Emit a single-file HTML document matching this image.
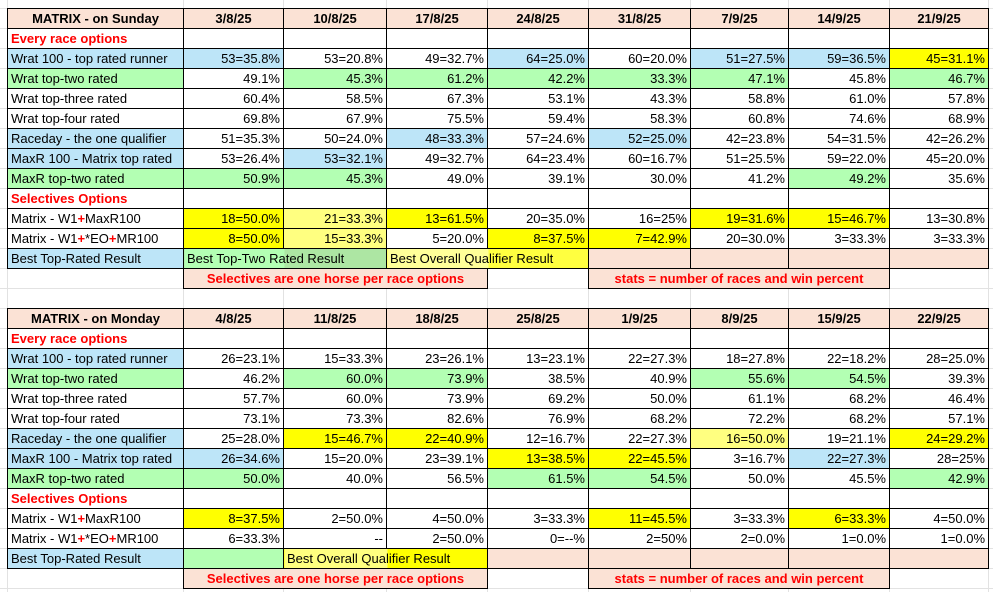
<!DOCTYPE html>
<html><head><meta charset="utf-8"><style>
html,body{margin:0;padding:0;}
body{width:993px;height:592px;position:relative;overflow:hidden;background-color:#fff;
background-image:
linear-gradient(#e2e2e2,#e2e2e2),linear-gradient(#e2e2e2,#e2e2e2),linear-gradient(#e2e2e2,#e2e2e2),linear-gradient(#e2e2e2,#e2e2e2),linear-gradient(#e2e2e2,#e2e2e2),linear-gradient(#e2e2e2,#e2e2e2),linear-gradient(#e2e2e2,#e2e2e2),linear-gradient(#e2e2e2,#e2e2e2),linear-gradient(#e2e2e2,#e2e2e2),linear-gradient(#e2e2e2,#e2e2e2),
repeating-linear-gradient(to bottom,#e2e2e2 0,#e2e2e2 1px,transparent 1px,transparent 20px);
background-size:1px 592px,1px 592px,1px 592px,1px 592px,1px 592px,1px 592px,1px 592px,1px 592px,1px 592px,1px 592px,993px 592px;
background-position:7px 0,183px 0,283px 0,386px 0,487px 0,588px 0,690px 0,788px 0,889px 0,988px 0,0 8px;
background-repeat:no-repeat,no-repeat,no-repeat,no-repeat,no-repeat,no-repeat,no-repeat,no-repeat,no-repeat,no-repeat,repeat;}
table{position:absolute;left:7px;border-collapse:collapse;table-layout:fixed;font-family:"Liberation Sans",Arial,sans-serif;font-size:13px;color:#000;}
td{border:1px solid #000;height:19px;padding:0 3px;line-height:18px;text-align:right;white-space:nowrap;overflow:hidden;background:#fff;}
td.l{text-align:left;}
th{border:1px solid #000;height:19px;padding:0;font-weight:bold;background:#fbe2d5;font-size:13px;}
.b{background:#bde5f8}.g{background:#b3ffb3}.y{background:#ffff00}.ly{background:#ffff80}.s{background:#fbe2d5}
.n{border:none;background:transparent}
.r{color:#ff0000;font-weight:bold}
.fn{text-align:center;color:#ff0000;font-weight:bold;background:#fbe2d5}
</style></head><body>

<table style="top:8px">
<colgroup><col style="width:176px"><col style="width:100px"><col style="width:103px"><col style="width:101px"><col style="width:101px"><col style="width:102px"><col style="width:98px"><col style="width:101px"><col style="width:99px"></colgroup>
<tr><th>MATRIX - on Sunday</th><th>3/8/25</th><th>10/8/25</th><th>17/8/25</th><th>24/8/25</th><th>31/8/25</th><th>7/9/25</th><th>14/9/25</th><th>21/9/25</th></tr>
<tr><td class="l r">Every race options</td><td></td><td></td><td></td><td></td><td></td><td></td><td></td><td></td></tr>
<tr><td class="l b">Wrat 100 - top rated runner</td><td class="b">53=35.8%</td><td>53=20.8%</td><td>49=32.7%</td><td class="b">64=25.0%</td><td>60=20.0%</td><td class="b">51=27.5%</td><td class="b">59=36.5%</td><td class="y">45=31.1%</td></tr>
<tr><td class="l g">Wrat top-two rated</td><td>49.1%</td><td class="g">45.3%</td><td class="g">61.2%</td><td class="g">42.2%</td><td class="g">33.3%</td><td class="g">47.1%</td><td>45.8%</td><td class="g">46.7%</td></tr>
<tr><td class="l">Wrat top-three rated</td><td>60.4%</td><td>58.5%</td><td>67.3%</td><td>53.1%</td><td>43.3%</td><td>58.8%</td><td>61.0%</td><td>57.8%</td></tr>
<tr><td class="l">Wrat top-four rated</td><td>69.8%</td><td>67.9%</td><td>75.5%</td><td>59.4%</td><td>58.3%</td><td>60.8%</td><td>74.6%</td><td>68.9%</td></tr>
<tr><td class="l b">Raceday - the one qualifier</td><td>51=35.3%</td><td>50=24.0%</td><td class="b">48=33.3%</td><td>57=24.6%</td><td class="b">52=25.0%</td><td>42=23.8%</td><td>54=31.5%</td><td>42=26.2%</td></tr>
<tr><td class="l b">MaxR 100 - Matrix top rated</td><td>53=26.4%</td><td class="b">53=32.1%</td><td>49=32.7%</td><td>64=23.4%</td><td>60=16.7%</td><td>51=25.5%</td><td>59=22.0%</td><td>45=20.0%</td></tr>
<tr><td class="l g">MaxR top-two rated</td><td class="g">50.9%</td><td class="g">45.3%</td><td>49.0%</td><td>39.1%</td><td>30.0%</td><td>41.2%</td><td class="g">49.2%</td><td>35.6%</td></tr>
<tr><td class="l r">Selectives Options</td><td></td><td></td><td></td><td></td><td></td><td></td><td></td><td></td></tr>
<tr><td class="l">Matrix - W1<span class="r">+</span>MaxR100</td><td class="y">18=50.0%</td><td class="ly">21=33.3%</td><td class="y">13=61.5%</td><td>20=35.0%</td><td>16=25%</td><td class="y">19=31.6%</td><td class="y">15=46.7%</td><td>13=30.8%</td></tr>
<tr><td class="l">Matrix - W1<span class="r">+</span>*EO<span class="r">+</span>MR100</td><td class="y">8=50.0%</td><td class="ly">15=33.3%</td><td>5=20.0%</td><td class="y">8=37.5%</td><td class="y">7=42.9%</td><td>20=30.0%</td><td>3=33.3%</td><td>3=33.3%</td></tr>
<tr><td class="l b">Best Top-Rated Result</td><td class="l" colspan="2" style="background:linear-gradient(to right,#b3ffb3 100px,#ade6a3 100px)">Best Top-Two Rated Result</td><td class="l" colspan="2" style="background:linear-gradient(to right,#ffff99 101px,#ffff40 101px)">Best Overall Qualifier Result</td><td class="s"></td><td class="s"></td><td class="s"></td><td class="s"></td></tr>
<tr><td class="n"></td><td class="fn" colspan="3">Selectives are one horse per race options</td><td class="n"></td><td class="fn" colspan="3">stats = number of races and win percent</td><td class="n"></td></tr>
</table>

<table style="top:308px">
<colgroup><col style="width:176px"><col style="width:100px"><col style="width:103px"><col style="width:101px"><col style="width:101px"><col style="width:102px"><col style="width:98px"><col style="width:101px"><col style="width:99px"></colgroup>
<tr><th>MATRIX - on Monday</th><th>4/8/25</th><th>11/8/25</th><th>18/8/25</th><th>25/8/25</th><th>1/9/25</th><th>8/9/25</th><th>15/9/25</th><th>22/9/25</th></tr>
<tr><td class="l r">Every race options</td><td></td><td></td><td></td><td></td><td></td><td></td><td></td><td></td></tr>
<tr><td class="l b">Wrat 100 - top rated runner</td><td>26=23.1%</td><td>15=33.3%</td><td>23=26.1%</td><td>13=23.1%</td><td>22=27.3%</td><td>18=27.8%</td><td>22=18.2%</td><td>28=25.0%</td></tr>
<tr><td class="l g">Wrat top-two rated</td><td>46.2%</td><td class="g">60.0%</td><td class="g">73.9%</td><td>38.5%</td><td>40.9%</td><td class="g">55.6%</td><td class="g">54.5%</td><td>39.3%</td></tr>
<tr><td class="l">Wrat top-three rated</td><td>57.7%</td><td>60.0%</td><td>73.9%</td><td>69.2%</td><td>50.0%</td><td>61.1%</td><td>68.2%</td><td>46.4%</td></tr>
<tr><td class="l">Wrat top-four rated</td><td>73.1%</td><td>73.3%</td><td>82.6%</td><td>76.9%</td><td>68.2%</td><td>72.2%</td><td>68.2%</td><td>57.1%</td></tr>
<tr><td class="l b">Raceday - the one qualifier</td><td>25=28.0%</td><td class="y">15=46.7%</td><td class="y">22=40.9%</td><td>12=16.7%</td><td>22=27.3%</td><td class="ly">16=50.0%</td><td>19=21.1%</td><td class="y">24=29.2%</td></tr>
<tr><td class="l b">MaxR 100 - Matrix top rated</td><td class="b">26=34.6%</td><td>15=20.0%</td><td>23=39.1%</td><td class="y">13=38.5%</td><td class="y">22=45.5%</td><td>3=16.7%</td><td class="b">22=27.3%</td><td>28=25%</td></tr>
<tr><td class="l g">MaxR top-two rated</td><td class="g">50.0%</td><td>40.0%</td><td>56.5%</td><td class="g">61.5%</td><td class="g">54.5%</td><td>50.0%</td><td>45.5%</td><td class="g">42.9%</td></tr>
<tr><td class="l r">Selectives Options</td><td></td><td></td><td></td><td></td><td></td><td></td><td></td><td></td></tr>
<tr><td class="l">Matrix - W1<span class="r">+</span>MaxR100</td><td class="y">8=37.5%</td><td>2=50.0%</td><td>4=50.0%</td><td>3=33.3%</td><td class="y">11=45.5%</td><td>3=33.3%</td><td class="y">6=33.3%</td><td>4=50.0%</td></tr>
<tr><td class="l">Matrix - W1<span class="r">+</span>*EO<span class="r">+</span>MR100</td><td>6=33.3%</td><td>--</td><td>2=50.0%</td><td>0=--%</td><td>2=50%</td><td>2=0.0%</td><td>1=0.0%</td><td>1=0.0%</td></tr>
<tr><td class="l b">Best Top-Rated Result</td><td class="g"></td><td class="l" colspan="2" style="background:linear-gradient(to right,#ffff80 103px,#ffff00 103px)">Best Overall Qualifier Result</td><td class="s"></td><td class="s"></td><td class="s"></td><td class="s"></td><td class="s"></td></tr>
<tr><td class="n"></td><td class="fn" colspan="3">Selectives are one horse per race options</td><td class="n"></td><td class="fn" colspan="3">stats = number of races and win percent</td><td class="n"></td></tr>
</table>

</body></html>
